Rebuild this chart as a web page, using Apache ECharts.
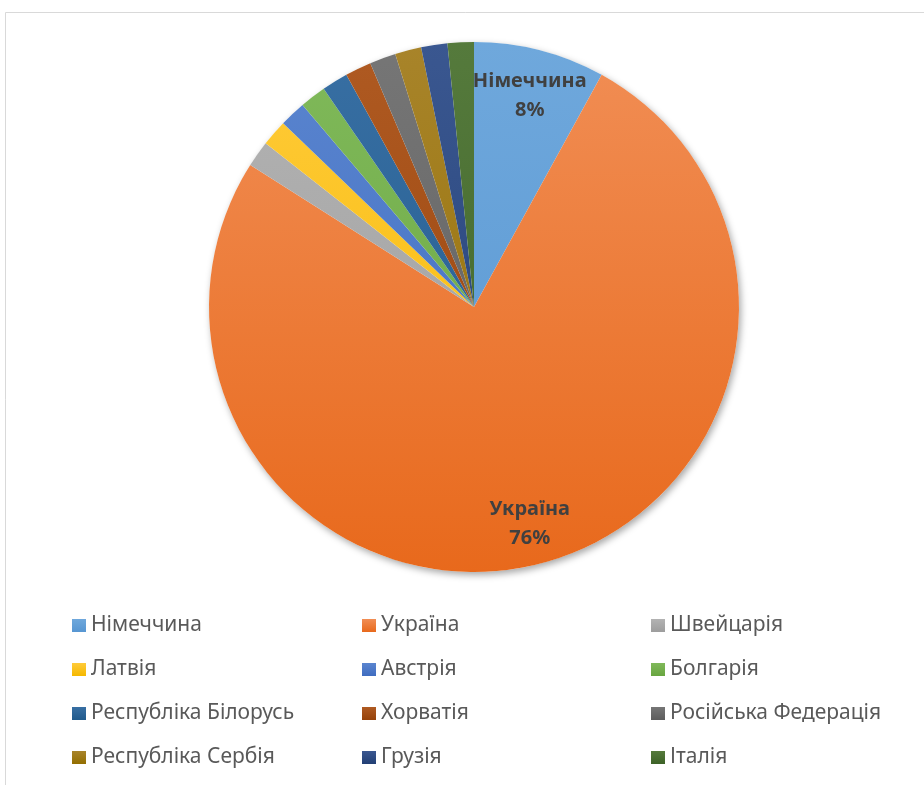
<!DOCTYPE html>
<html>
<head>
<meta charset="utf-8">
<script src="https://cdn.jsdelivr.net/npm/echarts@6/dist/echarts.min.js"></script>
<style>
  html, body { margin: 0; padding: 0; background: #ffffff; }
  #chart { width: 924px; height: 785px; }
</style>
</head>
<body>
<div id="chart"></div>
<script>
// Country shares, in percent
const categories = [
  'Німеччина', 'Україна', 'Швейцарія', 'Латвія', 'Австрія', 'Болгарія',
  'Республіка Білорусь', 'Хорватія', 'Російська Федерація', 'Республіка Сербія', 'Грузія', 'Італія'
];
const shares = [8, 76, 1.6, 1.6, 1.6, 1.6, 1.6, 1.6, 1.6, 1.6, 1.6, 1.6];
const labeledCountries = ['Німеччина', 'Україна'];

// Office palette, light (top) and dark (bottom) stops of each slice's fill
const topColors = ['#6FA8DC', '#F18E55', '#B3B3B3', '#FFCB3A', '#5A85CF', '#80B95A', '#386FA3', '#AF5A22', '#767676', '#A8842A', '#3A5790', '#557A3C'];
const bottomColors = ['#5796D2', '#E8691C', '#9D9D9D', '#F5B800', '#3F6CC0', '#68A540', '#205A8C', '#96420A', '#5C5C5C', '#936E00', '#223F74', '#3D6227'];

const cx = 474, cy = 307, R = 265;
const FONT = '"Noto Sans", "Open Sans", sans-serif';

function sliceGradient(i) {
  return new echarts.graphic.LinearGradient(0, cy - R, 0, cy + R, [
    { offset: 0, color: topColors[i] },
    { offset: 1, color: bottomColors[i] }
  ], true);
}
function iconGradient(i) {
  return new echarts.graphic.LinearGradient(0, 0, 0, 1, [
    { offset: 0, color: topColors[i] },
    { offset: 1, color: bottomColors[i] }
  ]);
}

const pieData = categories.map((name, i) => ({
  name,
  value: shares[i],
  itemStyle: { color: sliceGradient(i) }
}));

// Only the two large slices carry a label; the top one is nudged down a little
const labelData = categories.map((name, i) => ({
  name,
  value: shares[i],
  label: {
    show: labeledCountries.includes(name),
    offset: i === 0 ? [0, 6] : [0, 0]
  }
}));

// Three legend columns, filled row by row
const columns = [[], [], []];
categories.forEach((name, i) => {
  columns[i % 3].push({ name, itemStyle: { color: iconGradient(i) } });
});
const columnLeft = [72, 362, 651];

const chart = echarts.init(document.getElementById('chart'), null, { renderer: 'canvas' });
chart.setOption({
  animation: false,
  backgroundColor: '#ffffff',
  graphic: [{
    type: 'rect',
    shape: { x: 5.5, y: 12.5, width: 940, height: 800 },
    style: { fill: 'none', stroke: '#D9D9D9', lineWidth: 1 },
    silent: true,
    z: -10
  }],
  legend: columns.map((col, c) => ({
    orient: 'vertical',
    left: columnLeft[c],
    top: 614,
    padding: 0,
    itemWidth: 14,
    itemHeight: 13,
    itemGap: 21,
    icon: 'rect',
    selectedMode: false,
    textStyle: { color: '#595959', fontSize: 21, fontFamily: FONT, lineHeight: 23 },
    data: col
  })),
  series: [
    {
      // soft shadow under the disc
      type: 'pie',
      center: [cx, cy],
      radius: R,
      silent: true,
      label: { show: false },
      labelLine: { show: false },
      itemStyle: {
        color: '#ffffff',
        shadowBlur: 7,
        shadowColor: 'rgba(0,0,0,0.35)',
        shadowOffsetX: 2,
        shadowOffsetY: 3
      },
      data: [{ name: '', value: 1 }],
      z: 1
    },
    {
      type: 'pie',
      center: [cx, cy],
      radius: R,
      startAngle: 90,
      clockwise: true,
      silent: true,
      label: { show: false },
      labelLine: { show: false },
      itemStyle: { borderWidth: 0 },
      emphasis: { disabled: true },
      data: pieData,
      z: 2
    },
    {
      // data labels sit at about 0.83 of the radius
      type: 'pie',
      center: [cx, cy],
      radius: [177, R],
      startAngle: 90,
      clockwise: true,
      silent: true,
      percentPrecision: 0,
      itemStyle: { color: 'rgba(0,0,0,0)', borderWidth: 0 },
      emphasis: { disabled: true },
      labelLine: { show: false },
      label: {
        position: 'inside',
        formatter: '{b}\n{d}%',
        color: '#404040',
        fontWeight: 'bold',
        fontSize: 20,
        lineHeight: 29,
        fontFamily: FONT
      },
      data: labelData,
      z: 3
    }
  ]
});
</script>
</body>
</html>
